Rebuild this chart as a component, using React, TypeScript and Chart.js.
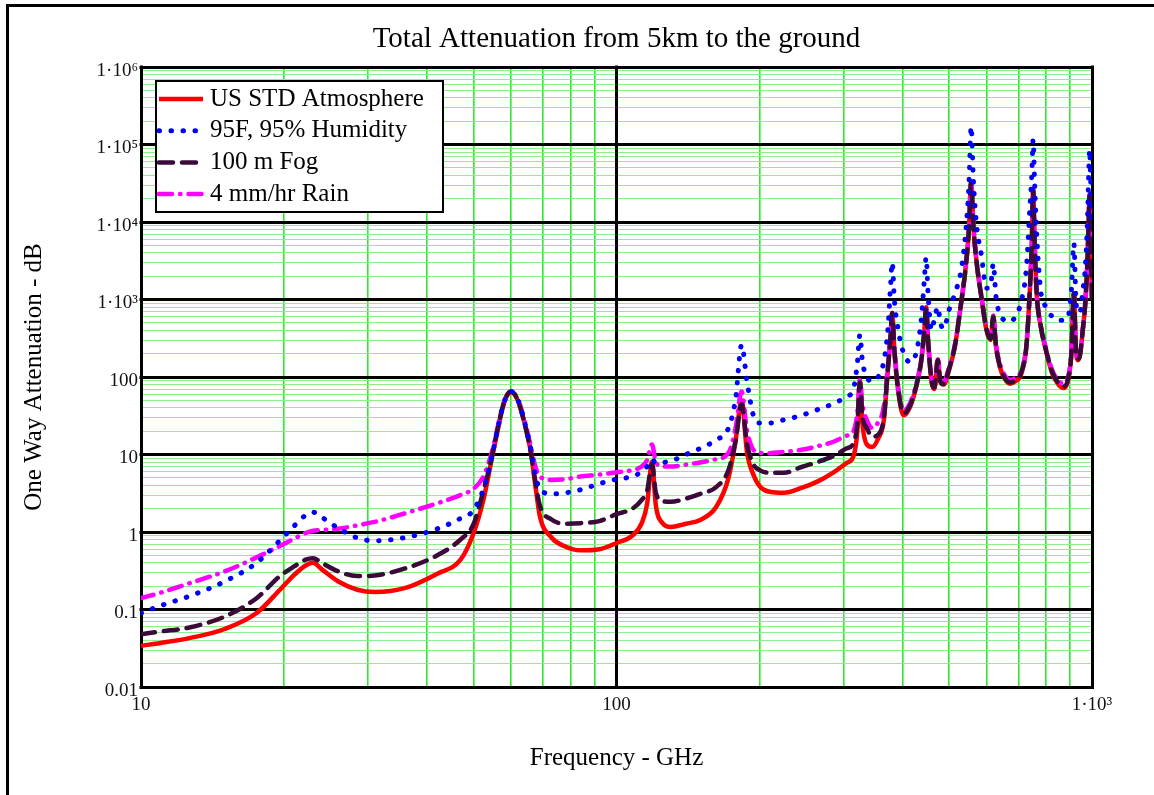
import React, { useEffect, useRef } from 'react';
import { Chart, registerables } from 'chart.js';

Chart.register(...registerables);

// ---------------- data ----------------
const freqGHz = [
  10, 11, 12.7, 15, 17.5, 19.6, 21, 22.2, 23, 24,
  26, 28.5, 31, 36, 42, 47, 50, 52.5, 54.5, 56,
  58, 60, 62, 64, 66, 67.5, 69, 73, 78, 84,
  92, 100, 108, 113, 116, 118.75, 121, 125, 130, 140,
  150, 162, 172, 178, 183.3, 188, 194, 200, 210, 225,
  245, 265, 285, 305, 315, 321, 325, 329, 336, 345,
  355, 365, 372, 377, 380, 384, 392, 402, 415, 428,
  438, 444, 448, 452, 460, 466, 474, 480, 488, 500,
  515, 530, 542, 551, 557, 563, 572, 585, 600, 612,
  620, 628, 640, 655, 672, 690, 710, 728, 740, 747,
  752, 757, 765, 780, 800, 825, 850, 872, 892, 905,
  916, 925, 935, 945, 955, 968, 978, 985, 988, 991,
  996, 1000,
];

const usStdAtmosphere = [
  0.034, 0.037, 0.043, 0.056, 0.09, 0.18, 0.28, 0.37, 0.40, 0.33,
  0.23, 0.18, 0.168, 0.19, 0.29, 0.44, 0.95, 2.6, 8, 18,
  46, 64, 50, 26, 11, 4, 1.6, 0.85, 0.65, 0.58,
  0.6, 0.72, 0.9, 1.3, 2.3, 8, 2.2, 1.3, 1.16, 1.28,
  1.43, 2.1, 5.0, 15, 50, 11, 5.5, 3.9, 3.3, 3.2,
  3.7, 4.5, 5.8, 7.8, 9.5, 20, 90, 25, 13.5, 12.5,
  16, 28, 120, 330, 670, 220, 60, 32, 42, 80,
  170, 400, 800, 300, 85, 70, 165, 85, 80, 120,
  250, 850, 2500, 8000, 33000, 9000, 3000, 1100, 400, 300,
  600, 250, 135, 95, 82, 88, 110, 250, 1300, 5000,
  26000, 6000, 1200, 450, 220, 110, 80, 72, 95, 200,
  1200, 220, 165, 200, 370, 900, 3000, 12000, 22000, 8000,
  2500, 1000,
];

const humid95F = [
  0.09, 0.112, 0.15, 0.23, 0.40, 0.78, 1.2, 1.65, 1.8, 1.55,
  1.12, 0.84, 0.77, 0.85, 1.1, 1.5, 1.9, 3.6, 8.5, 19,
  47, 65, 51, 27, 12, 5.5, 3.6, 3.1, 3.2, 3.5,
  4.2, 4.8, 5.2, 6.0, 7.0, 8.7, 7.8, 7.9, 8.2, 10,
  12, 15.4, 22, 52, 260, 90, 32, 25.5, 25.5, 28,
  32, 38, 45, 56, 70, 150, 350, 160, 100, 88,
  100, 160, 400, 1500, 3000, 1000, 380, 200, 155, 220,
  600, 1800, 3500, 1200, 400, 550, 800, 500, 420, 720,
  1200, 2300, 7000, 30000, 170000, 35000, 9000, 3800, 1400, 1500,
  2900, 1100, 650, 540, 520, 600, 950, 2600, 15000, 40000,
  115000, 35000, 7000, 1300, 800, 600, 540, 540, 620, 1300,
  5300, 1000, 680, 700, 1200, 2600, 10000, 50000, 85000, 60000,
  20000, 8000,
];

const fog100m = [
  0.048, 0.052, 0.059, 0.081, 0.14, 0.27, 0.36, 0.44, 0.46, 0.40,
  0.31, 0.27, 0.275, 0.34, 0.50, 0.80, 1.25, 3.4, 8.5, 19,
  47, 65, 50, 26, 11, 4.5, 2.2, 1.45, 1.28, 1.3,
  1.38, 1.7, 2.0, 2.6, 3.4, 7.5, 3.2, 2.5, 2.45, 2.7,
  3.1, 3.8, 6.3, 15, 45, 14, 7.5, 6.3, 5.8, 5.8,
  6.9, 8.0, 9.5, 12, 14, 25, 85, 32, 22, 17,
  18, 30, 125, 330, 670, 225, 63, 34, 44, 82,
  172, 400, 800, 305, 88, 73, 165, 88, 81, 125,
  255, 860, 2500, 8000, 33000, 9000, 3000, 1100, 410, 310,
  600, 255, 140, 98, 85, 92, 115, 255, 1300, 5000,
  26000, 6000, 1200, 460, 225, 115, 84, 76, 98, 205,
  1200, 225, 170, 205, 375, 900, 3000, 12000, 22000, 8000,
  2500, 1000,
];

const rain4mmHr = [
  0.14, 0.165, 0.22, 0.31, 0.47, 0.66, 0.82, 0.97, 1.04, 1.06,
  1.1, 1.22, 1.35, 1.75, 2.35, 3.0, 3.6, 5.2, 10, 20,
  48, 65, 52, 28, 13, 7, 5.2, 4.7, 4.8, 5.2,
  5.5, 5.9, 6.3, 7.0, 8.5, 13.5, 8, 7.0, 7.0, 7.4,
  7.9, 8.7, 10.5, 22, 65, 21, 11.5, 10.5, 10.4, 10.8,
  11.5, 12.8, 14.5, 17.5, 20, 35, 92, 45, 28, 22,
  26, 42, 135, 340, 680, 235, 68, 37, 47, 86,
  180, 410, 810, 320, 94, 79, 170, 94, 87, 132,
  265, 880, 2550, 8100, 34000, 9100, 3050, 1150, 430, 330,
  620, 270, 150, 106, 92, 99, 122, 265, 1320, 5050,
  26500, 6100, 1230, 475, 235, 122, 90, 82, 104, 212,
  1210, 235, 178, 212, 385, 910, 3050, 12500, 22500, 8200,
  2600, 1050,
];

const seriesLabels = ['US STD Atmosphere', '95F, 95% Humidity', '100 m Fog', '4 mm/hr Rain'];

const xDecades = [10, 100, 1000];
const xTickLabels = ['10', '100', '1·10³'];
const yDecades = [0.01, 0.1, 1, 10, 100, 1000, 1e4, 1e5, 1e6];
const yTickLabels = ['0.01', '0.1', '1', '10', '100', '1·10³', '1·10⁴', '1·10⁵', '1·10⁶'];
const minorSteps = [2, 3, 4, 5, 6, 7, 8, 9];

const titleText = 'Total Attenuation from 5km to the ground';
const xTitleText = 'Frequency - GHz';
const yTitleText = 'One Way Attenuation - dB';

// ---------------- styles ----------------
const FONT = '"Liberation Serif", "Times New Roman", serif';
const seriesStyles = [
  { color: '#ff0000', width: 4.5, dash: [] as number[], order: 4 },
  { color: '#0000ff', width: 5, dash: [0.5, 11.5], order: 1 },
  { color: '#3a0a3a', width: 4.5, dash: [14, 9], order: 2 },
  { color: '#ff00ff', width: 4.5, dash: [13, 8, 0.5, 8], order: 3 },
];
const seriesValues = [usStdAtmosphere, humid95F, fog100m, rain4mmHr];

function buildLogTicks(decades: number[]) {
  const out: { value: number; major: boolean }[] = [];
  decades.forEach((d, i) => {
    out.push({ value: d, major: true });
    if (i < decades.length - 1) {
      minorSteps.forEach((m) => out.push({ value: parseFloat((d * m).toPrecision(6)), major: false }));
    }
  });
  return out;
}

function labelFor(v: number, decades: number[], labels: string[]) {
  const k = decades.findIndex((d) => Math.abs(Math.log10(d) - Math.log10(v)) < 1e-6);
  return k >= 0 ? labels[k] : '';
}

const framePlugin = {
  id: 'outerFrame',
  beforeDraw(chart: any) {
    const ctx = chart.ctx;
    ctx.save();
    ctx.fillStyle = '#000';
    ctx.fillRect(6, 4, chart.width - 6, 3);
    ctx.fillRect(6, 4, 3, chart.height - 4);
    ctx.restore();
  },
};

// redraw the decade lines above all minor grid lines
const decadeLinesPlugin = {
  id: 'decadeLines',
  beforeDatasetsDraw(chart: any) {
    const ctx = chart.ctx;
    const a = chart.chartArea;
    const xs = chart.scales.x;
    const ys = chart.scales.y;
    ctx.save();
    ctx.strokeStyle = '#000';
    ctx.lineWidth = 3;
    ctx.lineCap = 'square';
    yDecades.forEach((d) => {
      const y = Math.round(ys.getPixelForValue(d) - 1.5) + 1.5;
      ctx.beginPath();
      ctx.moveTo(a.left, y);
      ctx.lineTo(a.right, y);
      ctx.stroke();
    });
    xDecades.forEach((d) => {
      const x = Math.round(xs.getPixelForValue(d) - 1.5) + 1.5;
      ctx.beginPath();
      ctx.moveTo(x, a.top);
      ctx.lineTo(x, a.bottom);
      ctx.stroke();
    });
    ctx.restore();
  },
};

const boxLegendPlugin = {
  id: 'boxLegend',
  afterDatasetsDraw(chart: any) {
    const ctx = chart.ctx;
    const a = chart.chartArea;
    const bx = a.left + 15;
    const by = a.top + 14;
    const bw = 287;
    const bh = 131;
    ctx.save();
    ctx.fillStyle = '#ffffff';
    ctx.fillRect(bx, by, bw, bh);
    ctx.lineWidth = 2;
    ctx.strokeStyle = '#000';
    ctx.strokeRect(bx, by, bw, bh);
    chart.data.datasets.forEach((ds: any, i: number) => {
      const y = by + 18 + i * 31.7;
      ctx.save();
      ctx.beginPath();
      ctx.rect(bx + 1, by + 1, bw - 2, bh - 2);
      ctx.clip();
      ctx.beginPath();
      ctx.setLineDash(ds.borderDash || []);
      ctx.lineDashOffset = 0;
      ctx.lineWidth = ds.borderWidth;
      ctx.strokeStyle = ds.borderColor;
      ctx.lineCap = ds.borderCapStyle || 'round';
      ctx.moveTo(bx + 3, y);
      ctx.lineTo(bx + 47, y);
      ctx.stroke();
      ctx.restore();
      ctx.fillStyle = '#000';
      ctx.font = `25px ${FONT}`;
      ctx.textBaseline = 'middle';
      ctx.textAlign = 'left';
      ctx.fillText(ds.label, bx + 54, y);
    });
    ctx.restore();
  },
};

export default function App() {
  const canvasRef = useRef<HTMLCanvasElement | null>(null);

  useEffect(() => {
    if (!canvasRef.current) return;
    Chart.defaults.font.family = FONT;
    const datasets = seriesLabels.map((label, i) => ({
      label,
      data: freqGHz.map((f, j) => ({ x: f, y: seriesValues[i][j] })),
      borderColor: seriesStyles[i].color,
      backgroundColor: seriesStyles[i].color,
      borderWidth: seriesStyles[i].width,
      borderDash: seriesStyles[i].dash,
      borderCapStyle: i === 0 ? 'butt' : 'round',
      borderJoinStyle: 'round',
      order: seriesStyles[i].order,
      pointRadius: 0,
      fill: false,
      cubicInterpolationMode: 'monotone',
    }));

    const minorX = '#2de82d';
    const minorY = '#8eef8e';

    const chart = new Chart(canvasRef.current, {
      type: 'line',
      data: { datasets } as any,
      plugins: [framePlugin, decadeLinesPlugin, boxLegendPlugin],
      options: {
        animation: false,
        responsive: false,
        devicePixelRatio: 1,
        layout: { padding: { left: 0, right: 62, top: 0, bottom: 0 } },
        plugins: {
          legend: { display: false },
          tooltip: { enabled: false },
          title: {
            display: true,
            text: titleText,
            fullSize: false,
            color: '#000',
            font: { size: 29, weight: 'normal', family: FONT },
            padding: { top: 21.6, bottom: 10.6 },
          },
        },
        scales: {
          x: {
            type: 'logarithmic',
            min: 10,
            max: 1000,
            afterBuildTicks: (scale: any) => {
              scale.ticks = buildLogTicks(xDecades);
            },
            afterFit: (scale: any) => {
              scale.height = 108;
            },
            ticks: {
              autoSkip: false,
              maxRotation: 0,
              minRotation: 0,
              padding: 7,
              color: '#111',
              font: { size: 19, family: FONT },
              callback: (v: any, i: number, ticks: any[]) =>
                ticks[i] && ticks[i].major ? labelFor(Number(v), xDecades, xTickLabels) : '',
            },
            grid: {
              drawTicks: false,
              color: (c: any) => (c.tick && c.tick.major ? '#000' : minorX),
              lineWidth: (c: any) => (c.tick && c.tick.major ? 3 : 1.6),
            },
            border: { display: true, color: '#000', width: 3 },
            title: {
              display: true,
              text: xTitleText,
              color: '#000',
              font: { size: 25, family: FONT },
              padding: { top: 0, bottom: 22 },
            },
          },
          y: {
            type: 'logarithmic',
            min: 0.01,
            max: 1e6,
            afterBuildTicks: (scale: any) => {
              scale.ticks = buildLogTicks(yDecades);
            },
            afterFit: (scale: any) => {
              scale.width = 141;
            },
            ticks: {
              autoSkip: false,
              padding: 3,
              labelOffset: 4,
              color: '#111',
              font: { size: 19, family: FONT },
              callback: (v: any, i: number, ticks: any[]) =>
                ticks[i] && ticks[i].major ? labelFor(Number(v), yDecades, yTickLabels) : '',
            },
            grid: {
              drawTicks: false,
              color: (c: any) => (c.tick && c.tick.major ? '#000' : minorY),
              lineWidth: (c: any) => (c.tick && c.tick.major ? 3 : 1),
            },
            border: { display: true, color: '#000', width: 3 },
            title: {
              display: true,
              text: yTitleText,
              color: '#000',
              font: { size: 25, family: FONT },
              padding: { top: 19, bottom: 0 },
            },
          },
        },
      } as any,
    });
    return () => chart.destroy();
  }, []);

  return (
    <div style={{ position: 'absolute', left: 0, top: 0, width: 1154, height: 795, background: '#fff' }}>
      <canvas ref={canvasRef} width={1154} height={795} style={{ display: 'block' }} />
    </div>
  );
}
